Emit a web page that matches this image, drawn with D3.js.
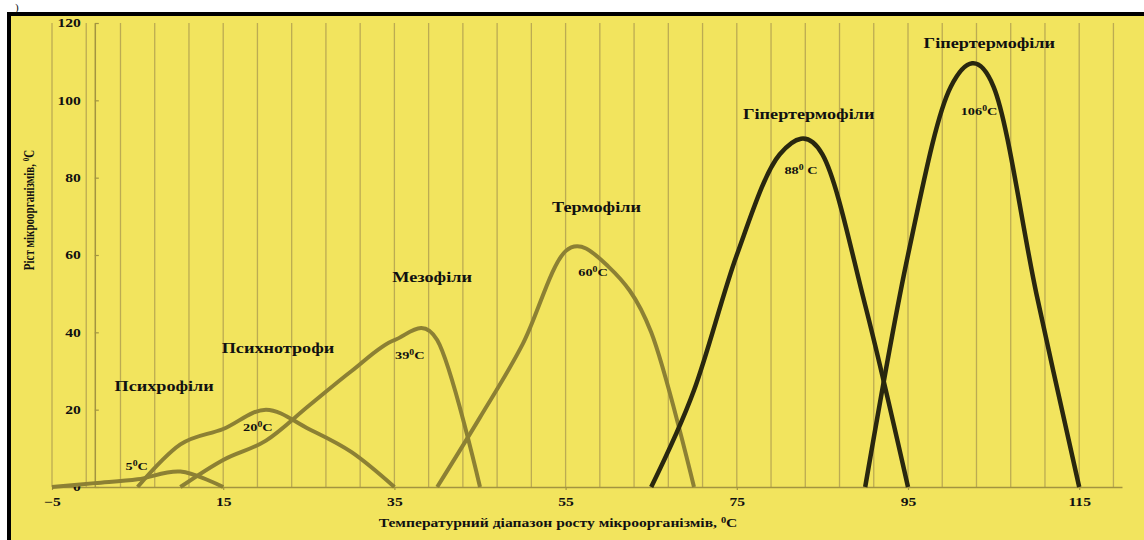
<!DOCTYPE html>
<html>
<head>
<meta charset="utf-8">
<script src="https://cdn.jsdelivr.net/npm/d3@7"></script>
<style>
  body { margin: 0; background: #fff; }
  text { font-family: "Liberation Serif", "DejaVu Serif", serif; font-weight: bold; fill: #111; }
</style>
</head>
<body>
<svg id="chart"></svg>
<script>
"use strict";

// temperature (x) and growth (y) for each group of microorganisms
const groupNames = ["Психрофіли", "Психнотрофи", "Мезофіли", "Термофіли", "Гіпертермофіли", "Гіпертермофіли"];
const optimumText = ["5", "20", "39", "60", "88", "106"];

const tempPsychro = [-5, 0, 5, 10, 15];
const growPsychro = [0, 1, 2, 4, 0];

const tempPsychrotroph = [5, 10, 15, 20, 25, 30, 35];
const growPsychrotroph = [0, 11, 15, 20, 15, 9, 0];

const tempMeso = [10, 15, 20, 25, 30, 35, 40, 45];
const growMeso = [0, 7, 12, 21, 30, 38, 38, 0];

const tempThermo = [40, 45, 50, 55, 60, 65, 70];
const growThermo = [0, 18, 37, 61, 57, 40, 0];

const tempHyper1 = [65, 70, 75, 80, 85, 90, 95];
const growHyper1 = [0, 25, 60, 86, 86, 47, 0];

const tempHyper2 = [90, 95, 100, 105, 110, 115];
const growHyper2 = [0, 60, 103.5, 103.5, 50, 0];

// label anchors in data units (temperature, growth)
const nameAt = [[8.1, 24.8], [21.4, 34.7], [39.4, 53], [58.6, 71.2], [83.4, 95.2], [104.5, 113.6]];
const optimumAt = [[4.9, 4.4], [19.05, 14.5], [36.8, 33.1], [58.2, 54.6], [82.5, 81], [103.3, 96.2]];

const xTicks = [-5, 15, 35, 55, 75, 95, 115];
const yTicks = [0, 20, 40, 60, 80, 100, 120];

const series = [
  { x: tempPsychro, y: growPsychro, dark: false },
  { x: tempPsychrotroph, y: growPsychrotroph, dark: false },
  { x: tempMeso, y: growMeso, dark: false },
  { x: tempThermo, y: growThermo, dark: false },
  { x: tempHyper1, y: growHyper1, dark: true },
  { x: tempHyper2, y: growHyper2, dark: true }
];

const W = 1144, H = 540;
const SX = 1.3; // the source picture is stretched sideways
const olive = "#8c8034", dark = "#29270f", grid = "#bcab52";

const svg = d3.select("#chart").attr("width", W).attr("height", H);

svg.append("rect").attr("width", W).attr("height", H).attr("fill", "#fff");
svg.append("rect")
  .attr("x", 9).attr("y", 14).attr("width", W + 20).attr("height", H + 20)
  .attr("fill", "#f2e45e").attr("stroke", "#000").attr("stroke-width", 4);

// caption mark at the top left
svg.append("text").attr("x", 15).attr("y", 11).attr("font-size", 11).style("font-weight", "normal").text(")");

const x = d3.scaleLinear().domain([-5, 120]).range([52, 1122]);
const y = d3.scaleLinear().domain([0, 120]).range([487, 23]);

// vertical gridlines every 4 degrees
svg.append("g").selectAll("line")
  .data(d3.range(-5, 120, 4))
  .join("line")
  .attr("x1", d => x(d)).attr("x2", d => x(d))
  .attr("y1", y(120)).attr("y2", y(0))
  .attr("stroke", grid).attr("stroke-width", 1.3);

// axes
const xAxis = svg.append("g")
  .attr("transform", `translate(0,${y(0)})`)
  .call(d3.axisBottom(x).tickValues(xTicks).tickSizeInner(3).tickSizeOuter(0).tickPadding(7));
const yAxis = svg.append("g")
  .attr("transform", `translate(${x(0)},0)`)
  .call(d3.axisLeft(y).tickValues(yTicks).tickSizeInner(-4).tickSizeOuter(0).tickPadding(14));

[xAxis, yAxis].forEach(a => {
  a.select(".domain").attr("stroke", "#a39440").attr("stroke-width", 1.5);
  a.selectAll(".tick line").attr("stroke", "#a39440").attr("stroke-width", 1.2);
  a.selectAll(".tick text")
    .attr("font-size", 12)
    .attr("fill", "#111")
    .style("font-family", "Liberation Serif, serif")
    .style("font-weight", "bold");
});
xAxis.selectAll(".tick text").each(function () {
  const t = d3.select(this);
  const ty = +t.attr("y");
  t.attr("transform", `translate(0,${ty}) scale(${SX},1) translate(0,${-ty})`);
});
yAxis.selectAll(".tick text").each(function () {
  const t = d3.select(this);
  const tx = +t.attr("x");
  t.attr("transform", `translate(${tx},0) scale(${SX},1) translate(${-tx},0)`);
});

// curves
const line = d3.line().x(d => x(d[0])).y(d => y(d[1])).curve(d3.curveCardinal.tension(0));
svg.append("g").selectAll("path")
  .data(series)
  .join("path")
  .attr("d", s => line(s.x.map((v, i) => [v, s.y[i]])))
  .attr("fill", "none")
  .attr("stroke", s => s.dark ? dark : olive)
  .attr("stroke-width", s => s.dark ? 4.5 : 4)
  .attr("stroke-linejoin", "round");

// stretched text helper
function wideText(px, py, size) {
  return svg.append("text")
    .attr("transform", `translate(${px},${py}) scale(${SX},1)`)
    .attr("text-anchor", "middle")
    .attr("font-size", size);
}

// group names
groupNames.forEach((name, i) => {
  wideText(x(nameAt[i][0]), y(nameAt[i][1]), 14).text(name);
});

// optimum temperatures with a small raised degree mark
optimumText.forEach((t, i) => {
  const el = wideText(x(optimumAt[i][0]), y(optimumAt[i][1]), 11);
  el.append("tspan").text(t);
  el.append("tspan").attr("font-size", 7.5).attr("dy", -4).text("0");
  el.append("tspan").attr("dy", 4).text(i === 4 ? " C" : "C");
});

// axis titles
const xt = wideText(558, 527, 12);
xt.append("tspan").text("Температурний  діапазон росту мікроорганізмів, ");
xt.append("tspan").attr("font-size", 8).attr("dy", -4).text("0");
xt.append("tspan").attr("dy", 4).text("С");

const yt = svg.append("text")
  .attr("transform", `translate(34,210) scale(1.25,1) rotate(-90)`)
  .attr("text-anchor", "middle")
  .attr("font-size", 11);
yt.append("tspan").text("Ріст мікроорганізмів, ");
yt.append("tspan").attr("font-size", 7).attr("dy", -4).text("0");
yt.append("tspan").attr("dy", 4).text("С");
</script>
</body>
</html>
